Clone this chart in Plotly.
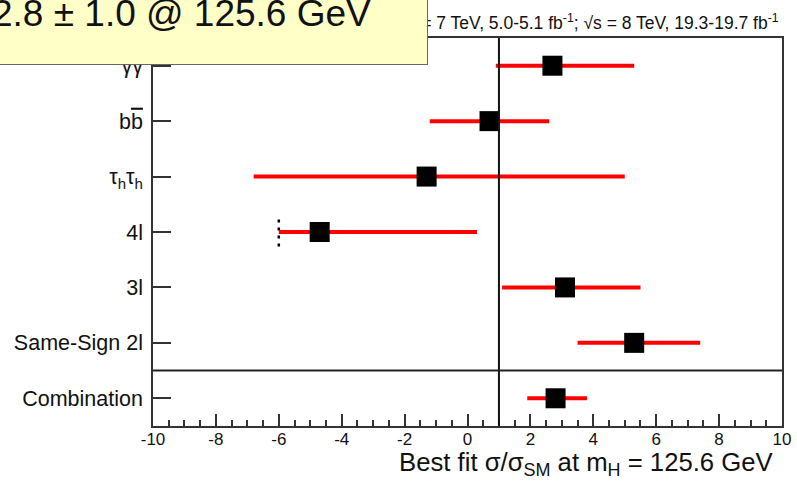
import plotly.graph_objects as go

# Channels, bottom to top
categories = ["Combination", "Same-Sign 2l", "3l", "4l",
              "τ<sub>h</sub>τ<sub>h</sub>",
              "b<span style='text-decoration:overline'>b</span>", "γγ"]
best_fit = [2.8, 5.3, 3.1, -4.7, -1.3, 0.7, 2.7]
err_up = [1.0, 2.1, 2.4, 5.0, 6.3, 1.9, 2.6]
err_down = [0.9, 1.8, 2.0, 1.3, 5.5, 1.9, 1.8]

sm_value = 1.0
fit_floor = -6.0          # lower boundary reached by the 4l fit
fit_floor_channel = 3     # index of 4l
x_ticks = [-10, -8, -6, -4, -2, 0, 2, 4, 6, 8, 10]
x_range = [-10, 10]

FONT = "Liberation Sans, Arial, Helvetica, sans-serif"
W, H = 797, 484
ML, MR, MT, MB = 153, 15, 38, 58
PW, PH = W - ML - MR, H - MT - MB


def px_x(p):
    return (p - ML) / PW


def px_y(p):
    return (H - MB - p) / PH


ypos = list(range(len(categories)))

fig = go.Figure()

# boundary marker for the 4l channel
fig.add_trace(go.Scatter(
    x=[fit_floor, fit_floor],
    y=[ypos[fit_floor_channel] - 0.26, ypos[fit_floor_channel] + 0.26],
    mode="lines",
    line=dict(color="black", width=2.5, dash="3px,5px"),
    hoverinfo="skip", showlegend=False,
))

fig.add_trace(go.Scatter(
    x=best_fit, y=ypos, mode="markers",
    marker=dict(symbol="square", size=20, color="black", line=dict(width=0)),
    error_x=dict(type="data", symmetric=False, array=err_up, arrayminus=err_down,
                 color="red", thickness=4, width=0),
    showlegend=False,
))

# SM expectation and separator between channels and combination
fig.add_shape(type="line", xref="x", yref="paper", x0=sm_value, x1=sm_value, y0=0, y1=1,
              line=dict(color="#111", width=2), layer="above")
fig.add_shape(type="line", xref="paper", yref="y", x0=0, x1=1, y0=0.5, y1=0.5,
              line=dict(color="#222", width=2), layer="above")

fig.update_layout(
    template="none",
    width=W, height=H,
    margin=dict(l=ML, r=MR, t=MT, b=MB, pad=0, autoexpand=False),
    paper_bgcolor="white", plot_bgcolor="white",
    font=dict(family=FONT, color="#111"),
    showlegend=False,
    xaxis=dict(
        range=x_range, tickvals=x_ticks, ticktext=[str(v) for v in x_ticks],
        automargin=False,
        ticks="inside", ticklen=12, tickwidth=1.5, tickcolor="#333",
        minor=dict(tickmode="linear", tick0=0, dtick=0.5, ticks="inside",
                   ticklen=6, tickwidth=1.5, tickcolor="#333", showgrid=False),
        showline=True, linecolor="#333", linewidth=1.5, mirror=True,
        showgrid=False, zeroline=False,
        tickfont=dict(size=17, color="#111"), ticklabelstandoff=-3,
    ),
    yaxis=dict(
        range=[-0.5, 6.5], tickvals=ypos, ticktext=categories,
        automargin=False,
        ticks="inside", ticklen=18, tickwidth=1.5, tickcolor="#333",
        showline=True, linecolor="#333", linewidth=1.5, mirror=True,
        showgrid=False, zeroline=False,
        tickfont=dict(size=21.5, color="#111"), ticklabelstandoff=4,
    ),
)

# luminosity header
fig.add_annotation(
    xref="paper", yref="paper", x=px_x(781), y=px_y(22),
    xanchor="right", yanchor="middle", showarrow=False,
    text="√s = 7 TeV, 5.0-5.1 fb<sup>-1</sup>; √s = 8 TeV, 19.3-19.7 fb<sup>-1</sup>",
    font=dict(size=17.5, color="#111"),
)

# combined result box
box_left, box_right, box_bottom = -7, 428, 65
box_h = 102
fig.add_annotation(
    xref="paper", yref="paper", x=px_x(box_right), y=px_y(box_bottom),
    xanchor="right", yanchor="bottom", showarrow=False,
    width=box_right - box_left, height=box_h, align="left", valign="middle",
    text="2.8 ± 1.0 @ 125.6 GeV",
    font=dict(size=37, color="#111"),
    bgcolor="#ffffc8", bordercolor="#666", borderwidth=1, borderpad=0,
)

# x-axis title
fig.add_annotation(
    xref="paper", yref="paper", x=px_x(776), y=px_y(464),
    xanchor="right", yanchor="middle", showarrow=False,
    text="Best fit σ/σ<sub>SM</sub> at m<sub>H</sub> = 125.6 GeV",
    font=dict(size=25.7, color="#111"),
)

fig.write_html("out.html")
